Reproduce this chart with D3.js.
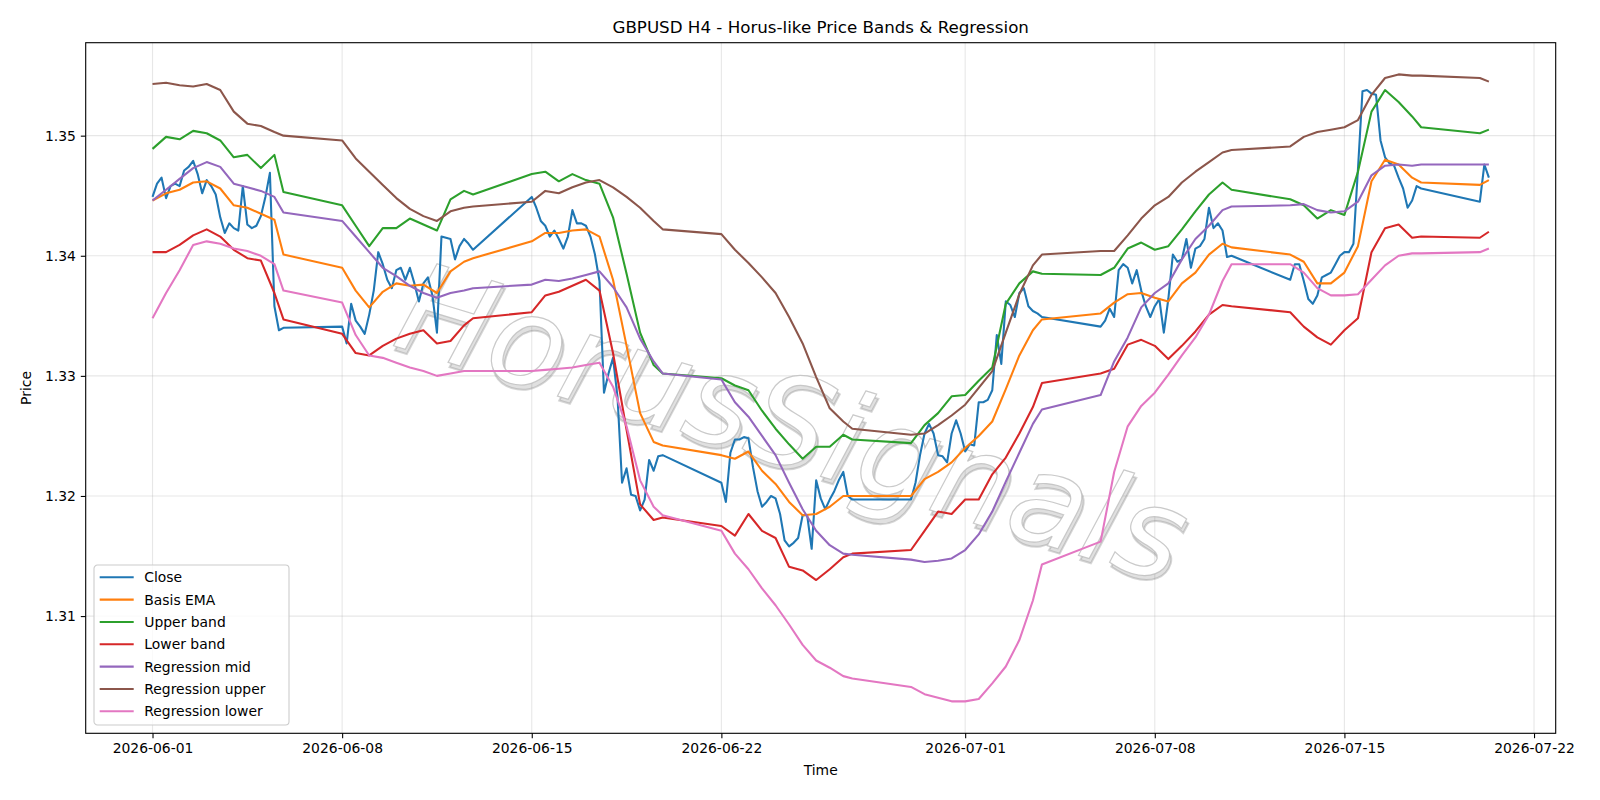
<!DOCTYPE html>
<html>
<head>
<meta charset="utf-8">
<script src="https://cdn.jsdelivr.net/npm/d3@7"></script>
<style>
  body { margin: 0; background: #fff; }
  svg { display: block; font-family: "DejaVu Sans", sans-serif; }
</style>
</head>
<body>
<div id="chart"></div>
<script>
// ---- data ----
// H4 bars: Monday 00:00 to Friday 20:00 each week, last week stops Mon 08:00
const weekStarts = ['2026-06-01', '2026-06-08', '2026-06-15', '2026-06-22', '2026-06-29', '2026-07-06', '2026-07-13', '2026-07-20'];
const lastBar = '2026-07-20T08:00:00Z';

// band series are read every 12h (hours from Monday 00:00) plus Friday 20:00
const bandHours = [0, 12, 24, 36, 48, 60, 72, 84, 96, 108, 116];
const lastWeekBandHours = [0, 8];

const closeValues = [
  // Jun 1 - 5
  1.3449, 1.3460, 1.3465, 1.3448, 1.3458, 1.3460, 1.3458, 1.3471, 1.3474, 1.3479, 1.3468, 1.3452, 1.3463, 1.3458, 1.3451,
  1.3432, 1.3419, 1.3427, 1.3423, 1.3421, 1.3458, 1.3426, 1.3423, 1.3425, 1.3433, 1.3449, 1.3469, 1.3358, 1.3338, 1.3340,
  // Jun 8 - 12
  1.3341, 1.3327, 1.3360, 1.3346, 1.3341, 1.3335, 1.3351, 1.3371, 1.3403, 1.3393, 1.3380, 1.3373, 1.3388, 1.3390, 1.3380,
  1.3390, 1.3377, 1.3362, 1.3377, 1.3382, 1.3367, 1.3336, 1.3416, 1.3415, 1.3414, 1.3397, 1.3408, 1.3414, 1.3410, 1.3405,
  // Jun 15 - 19
  1.3449, 1.3440, 1.3429, 1.3425, 1.3416, 1.3421, 1.3414, 1.3406, 1.3416, 1.3438, 1.3427, 1.3427, 1.3425, 1.3416, 1.3401,
  1.3379, 1.3286, 1.3302, 1.3315, 1.3282, 1.3211, 1.3223, 1.3201, 1.3200, 1.3188, 1.3197, 1.3230, 1.3221, 1.3233, 1.3234,
  // Jun 22 - 26
  1.3211, 1.3195, 1.3236, 1.3247, 1.3247, 1.3249, 1.3248, 1.3224, 1.3204, 1.3191, 1.3195, 1.3200, 1.3198, 1.3185, 1.3163,
  1.3158, 1.3161, 1.3165, 1.3184, 1.3184, 1.3156, 1.3213, 1.3198, 1.3189, 1.3197, 1.3204, 1.3213, 1.3220, 1.3200, 1.3197,
  // Jun 29 - Jul 3
  1.3197, 1.3211, 1.3234, 1.3252, 1.3260, 1.3252, 1.3234, 1.3233, 1.3228, 1.3252, 1.3263, 1.3252, 1.3237, 1.3243, 1.3242,
  1.3278, 1.3278, 1.3280, 1.3288, 1.3334, 1.3310, 1.3362, 1.3359, 1.3349, 1.3369, 1.3373, 1.3358, 1.3354, 1.3352, 1.3349,
  // Jul 6 - 10
  1.3341, 1.3346, 1.3356, 1.3349, 1.3388, 1.3393, 1.3390, 1.3377, 1.3388, 1.3371, 1.3358, 1.3349, 1.3358, 1.3364, 1.3336,
  1.3364, 1.3401, 1.3395, 1.3397, 1.3414, 1.3390, 1.3406, 1.3408, 1.3414, 1.3440, 1.3423, 1.3427, 1.3421, 1.3399, 1.3400,
  // Jul 13 - 17
  1.3380, 1.3393, 1.3393, 1.3379, 1.3364, 1.3360, 1.3367, 1.3382, 1.3384, 1.3386, 1.3393, 1.3400, 1.3403, 1.3403, 1.3410,
  1.3472, 1.3537, 1.3538, 1.3535, 1.3534, 1.3496, 1.3482, 1.3477, 1.3475, 1.3465, 1.3456, 1.3440, 1.3446, 1.3458, 1.3456,
  // Jul 20
  1.3445, 1.3476, 1.3465
];

const basisEma = [
  1.3446, 1.3452, 1.3455, 1.3461, 1.3462, 1.3456, 1.3442, 1.3440, 1.3435, 1.3430, 1.3401,
  1.3390, 1.3371, 1.3357, 1.3370, 1.3377, 1.3375, 1.3376, 1.3369, 1.3387, 1.3395, 1.3398,
  1.3412, 1.3419, 1.3419, 1.3421, 1.3422, 1.3416, 1.3380, 1.3325, 1.3269, 1.3245, 1.3242,
  1.3234, 1.3231, 1.3237, 1.3221, 1.3210, 1.3195, 1.3184, 1.3185, 1.3191, 1.3200, 1.3200,
  1.3200, 1.3214, 1.3220, 1.3228, 1.3240, 1.3250, 1.3262, 1.3289, 1.3317, 1.3338, 1.3347,
  1.3352, 1.3361, 1.3368, 1.3369, 1.3365, 1.3362, 1.3377, 1.3386, 1.3401, 1.3410, 1.3407,
  1.3401, 1.3395, 1.3377, 1.3377, 1.3386, 1.3408, 1.3462, 1.3480, 1.3476, 1.3465, 1.3461,
  1.3459, 1.3463
];

const upperBand = [
  1.3489, 1.3499, 1.3497, 1.3504, 1.3502, 1.3496, 1.3482, 1.3484, 1.3473, 1.3484, 1.3453,
  1.3442, 1.3425, 1.3408, 1.3423, 1.3423, 1.3431, 1.3426, 1.3421, 1.3447, 1.3454, 1.3451,
  1.3468, 1.3470, 1.3462, 1.3468, 1.3463, 1.3460, 1.3432, 1.3385, 1.3336, 1.3309, 1.3302,
  1.3298, 1.3292, 1.3288, 1.3271, 1.3256, 1.3243, 1.3231, 1.3241, 1.3241, 1.3251, 1.3247,
  1.3244, 1.3259, 1.3269, 1.3283, 1.3284, 1.3296, 1.3307, 1.3360, 1.3377, 1.3387, 1.3385,
  1.3384, 1.3390, 1.3406, 1.3411, 1.3405, 1.3408, 1.3422, 1.3437, 1.3451, 1.3461, 1.3455,
  1.3447, 1.3442, 1.3431, 1.3438, 1.3434, 1.3470, 1.3520, 1.3538, 1.3528, 1.3516, 1.3507,
  1.3502, 1.3505
];

const lowerBand = [
  1.3403, 1.3403, 1.3409, 1.3417, 1.3422, 1.3416, 1.3405, 1.3398, 1.3396, 1.3369, 1.3347,
  1.3335, 1.3319, 1.3317, 1.3325, 1.3331, 1.3335, 1.3338, 1.3327, 1.3329, 1.3342, 1.3348,
  1.3353, 1.3367, 1.3370, 1.3375, 1.3380, 1.3371, 1.3319, 1.3255, 1.3193, 1.3180, 1.3182,
  1.3175, 1.3167, 1.3185, 1.3171, 1.3165, 1.3141, 1.3138, 1.3130, 1.3139, 1.3149, 1.3152,
  1.3155, 1.3171, 1.3187, 1.3185, 1.3197, 1.3197, 1.3218, 1.3232, 1.3252, 1.3274, 1.3294,
  1.3302, 1.3306, 1.3326, 1.3330, 1.3325, 1.3314, 1.3325, 1.3337, 1.3351, 1.3359, 1.3358,
  1.3353, 1.3341, 1.3332, 1.3326, 1.3338, 1.3348, 1.3403, 1.3423, 1.3426, 1.3415, 1.3416,
  1.3415, 1.3420
];

const regMid = [
  1.3446, 1.3455, 1.3464, 1.3473, 1.3478, 1.3474, 1.3460, 1.3457, 1.3454, 1.3449, 1.3436,
  1.3429, 1.3416, 1.3403, 1.3390, 1.3383, 1.3375, 1.3369, 1.3365, 1.3369, 1.3371, 1.3373,
  1.3376, 1.3380, 1.3379, 1.3381, 1.3384, 1.3387, 1.3374, 1.3357, 1.3331, 1.3312, 1.3302,
  1.3297, 1.3278, 1.3266, 1.3250, 1.3234, 1.3211, 1.3189, 1.3171, 1.3159, 1.3152, 1.3151,
  1.3147, 1.3145, 1.3146, 1.3148, 1.3155, 1.3168, 1.3187, 1.3212, 1.3236, 1.3260, 1.3272,
  1.3284, 1.3312, 1.3332, 1.3357, 1.3369, 1.3377, 1.3397, 1.3414, 1.3425, 1.3438, 1.3441,
  1.3442, 1.3443, 1.3438, 1.3436, 1.3437, 1.3445, 1.3467, 1.3475, 1.3476, 1.3475, 1.3476,
  1.3476, 1.3476
];

const regUpper = [
  1.3543, 1.3544, 1.3542, 1.3541, 1.3543, 1.3538, 1.3520, 1.3510, 1.3508, 1.3503, 1.3500,
  1.3496, 1.3481, 1.3470, 1.3459, 1.3448, 1.3439, 1.3433, 1.3429, 1.3437, 1.3440, 1.3441,
  1.3445, 1.3454, 1.3452, 1.3457, 1.3461, 1.3463, 1.3457, 1.3449, 1.3440, 1.3429, 1.3422,
  1.3418, 1.3405, 1.3394, 1.3382, 1.3369, 1.3349, 1.3327, 1.3299, 1.3273, 1.3262, 1.3256,
  1.3251, 1.3252, 1.3259, 1.3267, 1.3276, 1.3290, 1.3304, 1.3336, 1.3368, 1.3392, 1.3401,
  1.3404, 1.3404, 1.3417, 1.3431, 1.3442, 1.3449, 1.3461, 1.3470, 1.3478, 1.3486, 1.3488,
  1.3491, 1.3499, 1.3503, 1.3505, 1.3507, 1.3513, 1.3534, 1.3548, 1.3551, 1.3550, 1.3550,
  1.3548, 1.3545
];

const regLower = [
  1.3348, 1.3369, 1.3388, 1.3409, 1.3412, 1.3410, 1.3406, 1.3404, 1.3400, 1.3393, 1.3371,
  1.3361, 1.3334, 1.3317, 1.3315, 1.3311, 1.3307, 1.3304, 1.3300, 1.3302, 1.3304, 1.3304,
  1.3304, 1.3305, 1.3306, 1.3307, 1.3309, 1.3311, 1.3291, 1.3258, 1.3213, 1.3191, 1.3184,
  1.3171, 1.3152, 1.3139, 1.3123, 1.3109, 1.3093, 1.3076, 1.3063, 1.3057, 1.3050, 1.3048,
  1.3041, 1.3035, 1.3032, 1.3029, 1.3029, 1.3031, 1.3044, 1.3058, 1.3080, 1.3113, 1.3143,
  1.3162, 1.3220, 1.3258, 1.3275, 1.3286, 1.3301, 1.3317, 1.3332, 1.3351, 1.3379, 1.3393,
  1.3393, 1.3386, 1.3373, 1.3367, 1.3367, 1.3368, 1.3380, 1.3392, 1.3400, 1.3402, 1.3402,
  1.3403, 1.3406
];

const seriesNames = ['Close', 'Basis EMA', 'Upper band', 'Lower band', 'Regression mid', 'Regression upper', 'Regression lower'];
const xTickLabels = ['2026-06-01', '2026-06-08', '2026-06-15', '2026-06-22', '2026-07-01', '2026-07-08', '2026-07-15', '2026-07-22'];
const yTickValues = [1.31, 1.32, 1.33, 1.34, 1.35];
const watermarkText = 'HorusSignals';

// ---- time axes for the series ----
const HOUR = 3600 * 1000;
const lastTime = new Date(lastBar);

const closeTimes = [];
weekStarts.forEach(s => {
  const start = new Date(s + 'T00:00:00Z');
  for (let hr = 0; hr < 120; hr += 4) {
    const t = new Date(+start + hr * HOUR);
    if (t <= lastTime) closeTimes.push(t);
  }
});

const bandTimes = [];
weekStarts.forEach((s, i) => {
  const start = new Date(s + 'T00:00:00Z');
  const hours = i < weekStarts.length - 1 ? bandHours : lastWeekBandHours;
  hours.forEach(hr => bandTimes.push(new Date(+start + hr * HOUR)));
});

const series = [
  { name: seriesNames[0], times: closeTimes, values: closeValues, color: '#1f77b4' },
  { name: seriesNames[1], times: bandTimes, values: basisEma, color: '#ff7f0e' },
  { name: seriesNames[2], times: bandTimes, values: upperBand, color: '#2ca02c' },
  { name: seriesNames[3], times: bandTimes, values: lowerBand, color: '#d62728' },
  { name: seriesNames[4], times: bandTimes, values: regMid, color: '#9467bd' },
  { name: seriesNames[5], times: bandTimes, values: regUpper, color: '#8c564b' },
  { name: seriesNames[6], times: bandTimes, values: regLower, color: '#e377c2' }
];

// ---- layout ----
const width = 1600;
const height = 800;
const plotLeft = 85.7, plotRight = 1555.7, plotTop = 42.7, plotBottom = 733.3;

const svg = d3.select('#chart')
  .append('svg')
  .attr('width', width)
  .attr('height', height);

svg.append('rect').attr('width', width).attr('height', height).attr('fill', '#fff');

// x scale with matplotlib style 5% margins
const t0 = closeTimes[0], t1 = closeTimes[closeTimes.length - 1];
const xPad = (t1 - t0) * 0.05;
const x_scale = d3.scaleUtc()
  .domain([new Date(+t0 - xPad), new Date(+t1 + xPad)])
  .range([plotLeft, plotRight]);

const y_scale = d3.scaleLinear()
  .domain([1.30024, 1.35774])
  .range([plotBottom, plotTop]);

const xTicks = xTickLabels.map(s => new Date(s + 'T00:00:00Z'));

// grid
const grid = svg.append('g').attr('stroke', '#b0b0b0').attr('stroke-opacity', 0.3).attr('stroke-width', 1.1);
grid.selectAll('.vg').data(xTicks).enter().append('line')
  .attr('x1', d => x_scale(d)).attr('x2', d => x_scale(d))
  .attr('y1', plotTop).attr('y2', plotBottom);
grid.selectAll('.hg').data(yTickValues).enter().append('line')
  .attr('x1', plotLeft).attr('x2', plotRight)
  .attr('y1', d => y_scale(d)).attr('y2', d => y_scale(d));

// watermark: light outlined text with a soft shadow, under the lines
const wm = svg.append('g')
  .attr('transform', 'translate(780,464) rotate(17)')
  .style('font-size', '125px')
  .style('font-style', 'italic')
  .attr('text-anchor', 'middle');
wm.append('text')
  .attr('x', 3).attr('y', 4)
  .attr('fill', '#000')
  .attr('fill-opacity', 0.12)
  .attr('stroke', '#777')
  .attr('stroke-opacity', 0.3)
  .attr('stroke-width', 2)
  .text(watermarkText);
wm.append('text')
  .attr('fill', '#fff')
  .attr('stroke', '#bdbdbd')
  .attr('stroke-opacity', 0.8)
  .attr('stroke-width', 1.2)
  .text(watermarkText);

// lines
const plot = svg.append('g');
series.forEach(s => {
  const pts = s.values.map((v, i) => [s.times[i], v]);
  plot.append('path')
    .datum(pts)
    .attr('fill', 'none')
    .attr('stroke', s.color)
    .attr('stroke-width', 2.08)
    .attr('stroke-linejoin', 'round')
    .attr('d', d3.line().x(d => x_scale(d[0])).y(d => y_scale(d[1])));
});

// axes
const x_axis = d3.axisBottom(x_scale)
  .tickValues(xTicks)
  .tickFormat(d3.utcFormat('%Y-%m-%d'))
  .tickSize(4.9)
  .tickPadding(4.9);

const y_axis = d3.axisLeft(y_scale)
  .tickValues(yTickValues)
  .tickFormat(d3.format('.2f'))
  .tickSize(4.9)
  .tickPadding(4.9);

const gx = svg.append('g')
  .attr('transform', `translate(0, ${plotBottom})`)
  .call(x_axis);
const gy = svg.append('g')
  .attr('transform', `translate(${plotLeft}, 0)`)
  .call(y_axis);

[gx, gy].forEach(g => {
  g.select('.domain').remove();
  g.selectAll('line').attr('stroke', '#000').attr('stroke-width', 1.1);
  g.selectAll('text')
    .attr('fill', '#000')
    .style('font-family', '"DejaVu Sans", sans-serif')
    .style('font-size', '13.9px');
});

// frame
svg.append('rect')
  .attr('x', plotLeft).attr('y', plotTop)
  .attr('width', plotRight - plotLeft).attr('height', plotBottom - plotTop)
  .attr('fill', 'none')
  .attr('stroke', '#000')
  .attr('stroke-width', 1.1);

// title and labels
svg.append('text')
  .attr('x', (plotLeft + plotRight) / 2).attr('y', 32.5)
  .attr('text-anchor', 'middle')
  .style('font-size', '16.7px')
  .text('GBPUSD H4 - Horus-like Price Bands & Regression');

svg.append('text')
  .attr('x', (plotLeft + plotRight) / 2).attr('y', 775)
  .attr('text-anchor', 'middle')
  .style('font-size', '13.9px')
  .text('Time');

svg.append('text')
  .attr('transform', `translate(30.5, ${(plotTop + plotBottom) / 2}) rotate(-90)`)
  .attr('text-anchor', 'middle')
  .style('font-size', '13.9px')
  .text('Price');

// legend
const legend = svg.append('g').attr('transform', 'translate(94, 565)');
legend.append('rect')
  .attr('width', 195).attr('height', 160)
  .attr('rx', 3.5)
  .attr('fill', '#fff').attr('fill-opacity', 0.8)
  .attr('stroke', '#cccccc').attr('stroke-width', 1.1);

const rows = legend.selectAll('.row')
  .data(series)
  .enter()
  .append('g')
  .attr('transform', (d, i) => `translate(0, ${12.3 + i * 22.33})`);
rows.append('line')
  .attr('x1', 5.7).attr('x2', 39.7)
  .attr('stroke', d => d.color)
  .attr('stroke-width', 2.08);
rows.append('text')
  .attr('x', 50.3).attr('y', 5)
  .style('font-size', '13.9px')
  .text(d => d.name);
</script>
</body>
</html>
